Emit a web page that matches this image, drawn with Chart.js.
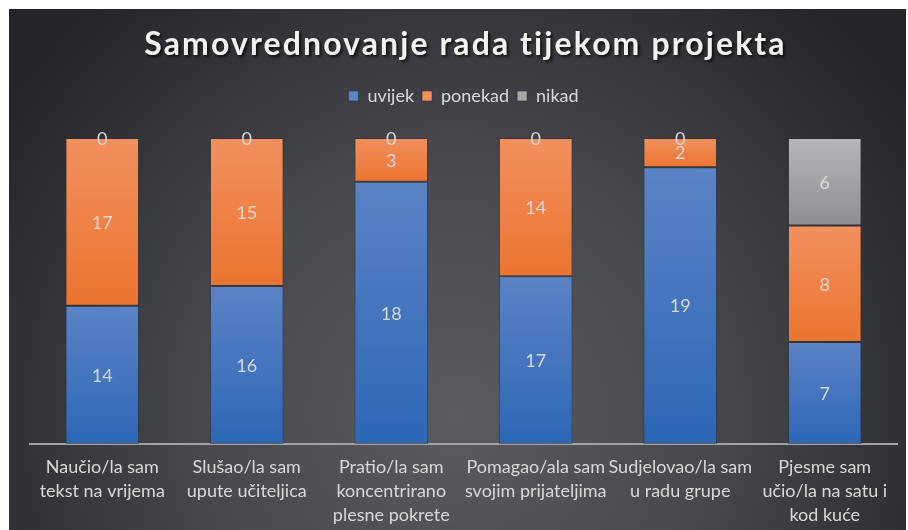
<!DOCTYPE html>
<html><head><meta charset="utf-8">
<script src="https://cdn.jsdelivr.net/npm/chart.js@4"></script>
<style>
html,body{margin:0;padding:0;background:#fff;}
#wrap{position:absolute;left:9px;top:9px;width:897px;height:521px;}
</style></head><body>
<div id="wrap"><canvas id="c"></canvas></div>
<script>
const titleText = "Samovrednovanje rada tijekom projekta";
const categories = [
  ["Naučio/la sam","tekst na vrijema"],
  ["Slušao/la sam","upute učiteljica"],
  ["Pratio/la sam","koncentrirano","plesne pokrete"],
  ["Pomagao/ala sam","svojim prijateljima"],
  ["Sudjelovao/la sam","u radu grupe"],
  ["Pjesme sam","učio/la na satu i","kod kuće"]
];
const seriesNames = ["uvijek","ponekad","nikad"];
const uvijek  = [14,16,18,17,19,7];
const ponekad = [17,15,3,14,2,8];
const nikad   = [0,0,0,0,0,6];

const raw = [uvijek, ponekad, nikad];
const totals = categories.map((_, i) => raw.reduce((s, a) => s + a[i], 0));
const pct = raw.map(a => a.map((v, i) => v / totals[i] * 100));

const colors = [
  {top:'#5b83c5', bottom:'#2d66b7', solid:'#4472c4'},
  {top:'#f2905f', bottom:'#ec7430', solid:'#ed7d31'},
  {top:'#b5b7ba', bottom:'#8c8e91', solid:'#a5a5a5'}
];

function grad(di){
  const c = colors[di];
  return (ctx) => {
    if (ctx.type !== 'data') return c.solid;
    const chart = ctx.chart, y = chart.scales.y;
    if (!y) return c.solid;
    const i = ctx.dataIndex;
    let start = 0;
    for (let d = 0; d < di; d++) start += pct[d][i];
    const end = start + pct[di][i];
    const y0 = y.getPixelForValue(end), y1 = y.getPixelForValue(start);
    if (!isFinite(y0) || !isFinite(y1) || y1 - y0 < 0.5) return c.solid;
    const g = chart.ctx.createLinearGradient(0, y0, 0, y1);
    g.addColorStop(0, c.top);
    g.addColorStop(1, c.bottom);
    return g;
  };
}

const bgPlugin = {
  id: 'bg',
  beforeDraw(chart){
    const {ctx, width, height} = chart;
    ctx.save();
    const g = ctx.createRadialGradient(width*0.5, height*0.78, 0, width*0.5, height*0.78, width*0.62);
    g.addColorStop(0, '#595b60');
    g.addColorStop(0.45, '#47494e');
    g.addColorStop(1, '#232428');
    ctx.fillStyle = g;
    ctx.fillRect(0, 0, width, height);
    ctx.restore();
  }
};

const titlePlugin = {
  id: 'fancyTitle',
  afterDraw(chart){
    const tb = chart.titleBlock;
    const ctx = chart.ctx;
    ctx.save();
    ctx.font = 'bold 32px Lato';
    ctx.letterSpacing = '2.1px';
    ctx.textAlign = 'center';
    ctx.textBaseline = 'middle';
    ctx.shadowColor = 'rgba(0,0,0,0.7)';
    ctx.shadowOffsetX = 2; ctx.shadowOffsetY = 2; ctx.shadowBlur = 3;
    ctx.fillStyle = '#f2f2f2';
    ctx.fillText(titleText, (tb.left + tb.right)/2 + 2, tb.top + 18 + 18);
    ctx.restore();
  }
};

const legendGap = {
  id: 'legendGap',
  beforeInit(chart){
    const fit = chart.legend.fit;
    chart.legend.fit = function(){ fit.call(this); this.height += 23; };
  }
};

const labelPlugin = {
  id: 'lbl',
  afterDatasetsDraw(chart){
    const ctx = chart.ctx;
    ctx.save();
    ctx.font = '18px Lato';
    ctx.fillStyle = '#d9d9d9';
    ctx.textAlign = 'center';
    ctx.textBaseline = 'middle';
    chart.data.datasets.forEach((ds, di) => {
      chart.getDatasetMeta(di).data.forEach((el, i) => {
        const p = el.getProps(['x','y','base'], true);
        ctx.fillText(String(raw[di][i]), p.x, (p.y + p.base)/2 + 1);
      });
    });
    ctx.restore();
  }
};

new Chart(document.getElementById('c'), {
  type: 'bar',
  data: {
    labels: categories,
    datasets: seriesNames.map((n, di) => ({
      label: n,
      data: pct[di],
      backgroundColor: grad(di),
      borderColor: 'rgba(40,44,52,0.55)',
      borderWidth: 1,
      borderSkipped: false,
      barPercentage: 0.51,
      categoryPercentage: 1
    }))
  },
  options: {
    responsive: true,
    maintainAspectRatio: false,
    animation: false,
    layout: {padding: {left: 21, right: 9, top: 0, bottom: -8}},
    plugins: {
      title: {display: true, text: titleText, color: 'rgba(0,0,0,0)',
              font: {family: 'Lato', size: 30, weight: 'bold', lineHeight: 1.2},
              padding: {top: 18, bottom: 16}},
      legend: {
        position: 'top',
        labels: {color: '#d9d9d9', font: {family: 'Lato', size: 18},
                 boxWidth: 10, boxHeight: 10, padding: 8}
      },
      tooltip: {enabled: false}
    },
    scales: {
      x: {
        stacked: true,
        grid: {display: false, drawTicks: false},
        border: {display: true, color: '#a3a3a3', width: 2},
        ticks: {color: '#d9d9d9', font: {family: 'Lato', size: 18, lineHeight: 1.333},
                maxRotation: 0, autoSkip: false, padding: 11}
      },
      y: {stacked: true, min: 0, max: 100, display: false}
    }
  },
  plugins: [bgPlugin, legendGap, labelPlugin, titlePlugin]
});
</script>
</body></html>
